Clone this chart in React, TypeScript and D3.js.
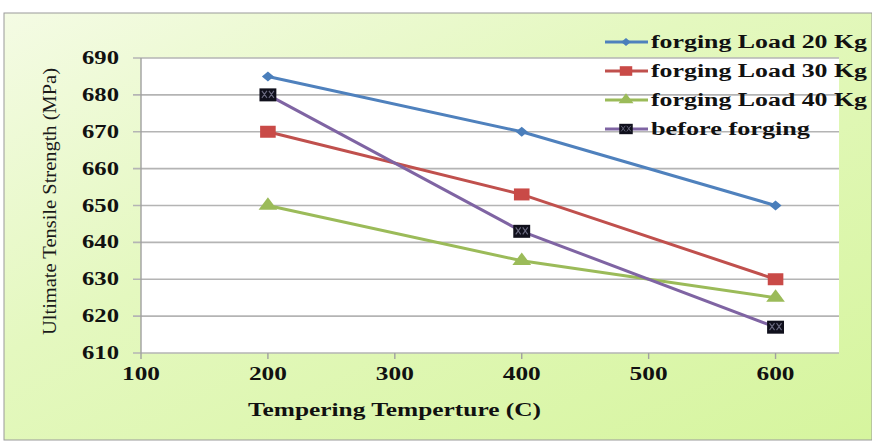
import { useEffect, useRef } from "react";
import * as d3 from "d3";

const temps = [200, 400, 600];
const load20 = [685, 670, 650];
const load30 = [670, 653, 630];
const load40 = [650, 635, 625];
const beforeForging = [680, 643, 617];
const seriesNames = [
  "forging Load 20 Kg",
  "forging Load 30 Kg",
  "forging Load 40 Kg",
  "before forging",
];
const xTicks = [100, 200, 300, 400, 500, 600];
const yTicks = [610, 620, 630, 640, 650, 660, 670, 680, 690];

type Marker = "diamond" | "square" | "triangle" | "box";

interface Series {
  name: string;
  values: number[];
  color: string;
  marker: Marker;
  markerFill: string;
}

const series: Series[] = [
  { name: seriesNames[0], values: load20, color: "#4f81bd", marker: "diamond", markerFill: "#4a7ebb" },
  { name: seriesNames[1], values: load30, color: "#c0504d", marker: "square", markerFill: "#c94a47" },
  { name: seriesNames[2], values: load40, color: "#9bbb59", marker: "triangle", markerFill: "#9bbb59" },
  { name: seriesNames[3], values: beforeForging, color: "#7f64a3", marker: "box", markerFill: "#10101c" },
];

const W = 872;
const H = 443;
const serif = "'Times New Roman', 'Liberation Serif', serif";

function drawMarker(
  g: d3.Selection<SVGGElement, unknown, null, undefined>,
  s: Series,
  cx: number,
  cy: number,
  k: number
) {
  const m = g.append("g").attr("transform", `translate(${cx},${cy}) scale(${k})`);
  if (s.marker === "diamond") {
    m.append("path")
      .attr("d", d3.symbol(d3.symbolSquare, 50)())
      .attr("transform", "scale(1.2,1) rotate(45)")
      .attr("fill", s.markerFill);
  } else if (s.marker === "square") {
    m.append("path")
      .attr("d", d3.symbol(d3.symbolSquare, 144)())
      .attr("transform", "scale(1.3,1)")
      .attr("fill", s.markerFill);
  } else if (s.marker === "triangle") {
    m.append("path")
      .attr("d", d3.symbol(d3.symbolTriangle, 90)())
      .attr("transform", "scale(1.3,1)")
      .attr("fill", s.markerFill);
  } else {
    m.append("path")
      .attr("d", d3.symbol(d3.symbolSquare, 169)())
      .attr("transform", "scale(1.3,1)")
      .attr("fill", s.markerFill);
    m.append("path")
      .attr("d", "M-6,-4L-1,3M-1,-4L-6,3M1,-4L6,3M6,-4L1,3")
      .attr("stroke", "#6a6a80")
      .attr("stroke-width", 1.1)
      .attr("fill", "none");
  }
}

export default function App() {
  const svgRef = useRef<SVGSVGElement>(null);

  useEffect(() => {
    const svg = d3.select(svgRef.current);
    svg.selectAll("*").remove();

    const x = d3.scaleLinear().domain([100, 650]).range([141, 839]);
    const y = d3.scaleLinear().domain([610, 690]).range([353, 58]);

    // background panel
    const defs = svg.append("defs");
    const grad = defs
      .append("linearGradient")
      .attr("id", "bg")
      .attr("x1", "0")
      .attr("y1", "0")
      .attr("x2", "1")
      .attr("y2", "1");
    grad.append("stop").attr("offset", "0").attr("stop-color", "#f4fbe4");
    grad.append("stop").attr("offset", "0.4").attr("stop-color", "#e4f8bf");
    grad.append("stop").attr("offset", "1").attr("stop-color", "#d6f59e");

    svg.append("rect").attr("width", W).attr("height", H).attr("fill", "#fff");
    svg.append("rect")
      .attr("x", 4)
      .attr("y", 13)
      .attr("width", W - 4)
      .attr("height", 427)
      .attr("fill", "url(#bg)")
      .attr("stroke", "#9a9a9a")
      .attr("stroke-width", 1);

    // plot area
    const [x0, x1] = x.range();
    const [yb, yt] = y.range();
    svg.append("rect")
      .attr("x", x0)
      .attr("y", yt)
      .attr("width", x1 - x0)
      .attr("height", yb - yt)
      .attr("fill", "#fff");

    // gridlines + y ticks
    svg.append("g")
      .selectAll("line")
      .data(yTicks)
      .join("line")
      .attr("x1", x0 - 8)
      .attr("x2", x1)
      .attr("y1", (d) => y(d))
      .attr("y2", (d) => y(d))
      .attr("stroke", "#b4b4b4")
      .attr("stroke-width", 1.6);

    svg.append("line")
      .attr("x1", x0)
      .attr("x2", x0)
      .attr("y1", yt)
      .attr("y2", yb)
      .attr("stroke", "#a0a0a0")
      .attr("stroke-width", 1.4);

    svg.append("g")
      .selectAll("line")
      .data(xTicks)
      .join("line")
      .attr("x1", (d) => x(d))
      .attr("x2", (d) => x(d))
      .attr("y1", yb)
      .attr("y2", yb + 6)
      .attr("stroke", "#a0a0a0")
      .attr("stroke-width", 1.4);

    // tick labels
    svg.append("g")
      .selectAll("text")
      .data(yTicks)
      .join("text")
      .attr("x", 119)
      .attr("y", (d) => y(d) + 6)
      .attr("text-anchor", "end")
      .attr("font-family", serif)
      .attr("font-weight", "bold")
      .attr("font-size", 18)
      .attr("fill", "#111")
      .attr("textLength", 37)
      .attr("lengthAdjust", "spacingAndGlyphs")
      .text((d) => d);

    svg.append("g")
      .selectAll("text")
      .data(xTicks)
      .join("text")
      .attr("x", (d) => x(d) - 19)
      .attr("y", 380)
      .attr("font-family", serif)
      .attr("font-weight", "bold")
      .attr("font-size", 18)
      .attr("fill", "#111")
      .attr("textLength", 38)
      .attr("lengthAdjust", "spacingAndGlyphs")
      .text((d) => d);

    // axis titles
    svg.append("text")
      .attr("x", 248)
      .attr("y", 416)
      .attr("font-family", serif)
      .attr("font-weight", "bold")
      .attr("font-size", 18)
      .attr("fill", "#111")
      .attr("textLength", 293)
      .attr("lengthAdjust", "spacingAndGlyphs")
      .text("Tempering  Temperture  (C)");

    svg.append("text")
      .attr("transform", "translate(56,335) rotate(-90)")
      .attr("font-family", serif)
      .attr("font-size", 19)
      .attr("fill", "#1a1a1a")
      .attr("textLength", 267)
      .attr("lengthAdjust", "spacingAndGlyphs")
      .text("Ultimate Tensile Strength (MPa)");

    // series lines
    const line = d3
      .line<number>()
      .x((_, i) => x(temps[i]))
      .y((d) => y(d));

    series.forEach((s) => {
      svg.append("path")
        .attr("d", line(s.values))
        .attr("fill", "none")
        .attr("stroke", s.color)
        .attr("stroke-width", 3);
    });
    series.forEach((s) => {
      const g = svg.append("g");
      s.values.forEach((v, i) => drawMarker(g, s, x(temps[i]), y(v), 1));
    });

    // legend
    const legend = svg.append("g");
    const rowY = d3.scalePoint<string>().domain(seriesNames).range([42, 129]);
    series.forEach((s) => {
      const cy = rowY(s.name) ?? 0;
      legend.append("line")
        .attr("x1", 605)
        .attr("x2", 648)
        .attr("y1", cy)
        .attr("y2", cy)
        .attr("stroke", s.color)
        .attr("stroke-width", 3);
      drawMarker(legend, s, 626, cy, 0.8);
      legend.append("text")
        .attr("x", 651)
        .attr("y", cy + 6)
        .attr("font-family", serif)
        .attr("font-weight", "bold")
        .attr("font-size", 18)
        .attr("fill", "#111")
        .attr("textLength", s.name === "before forging" ? 159 : 216)
        .attr("lengthAdjust", "spacingAndGlyphs")
        .text(s.name);
    });
  }, []);

  return (
    <svg
      ref={svgRef}
      width={W}
      height={H}
      style={{ position: "absolute", left: 0, top: 0, display: "block" }}
    />
  );
}
